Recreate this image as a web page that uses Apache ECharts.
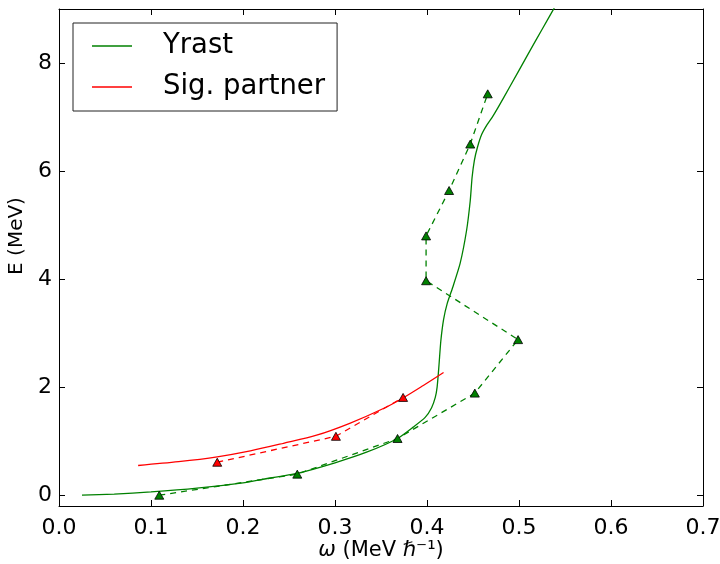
<!DOCTYPE html>
<html>
<head>
<meta charset="utf-8">
<script src="https://cdn.jsdelivr.net/npm/echarts@6/dist/echarts.min.js"></script>
<style>html,body{margin:0;padding:0;background:#fff;}#c{width:720px;height:564px;}</style>
</head>
<body>
<div id="c"></div>
<script>
// Yrast (theory, solid)
const yrastW = [0.025, 0.06, 0.10, 0.15, 0.20, 0.22, 0.26, 0.30, 0.335, 0.368, 0.385, 0.398, 0.405, 0.409, 0.411, 0.413, 0.415, 0.418, 0.422, 0.428, 0.436, 0.443, 0.447, 0.449, 0.4515, 0.455, 0.4595, 0.465, 0.471, 0.477, 0.490, 0.510, 0.525, 0.542];
const yrastE = [0.00, 0.02, 0.06, 0.13, 0.23, 0.29, 0.41, 0.60, 0.80, 1.05, 1.26, 1.44, 1.62, 1.81, 2.00, 2.40, 2.85, 3.25, 3.55, 3.85, 4.29, 4.90, 5.45, 5.88, 6.20, 6.45, 6.68, 6.85, 7.00, 7.17, 7.56, 8.17, 8.62, 9.13];
// Signature partner (theory, solid)
const partnerW = [0.086, 0.13, 0.172, 0.208, 0.244, 0.28, 0.316, 0.352, 0.374, 0.396, 0.418];
const partnerE = [0.55, 0.62, 0.71, 0.82, 0.96, 1.11, 1.33, 1.60, 1.80, 2.03, 2.27];
// Experimental (dashed with triangles)
const yrastExpW = [0.109, 0.259, 0.368, 0.452, 0.499, 0.399, 0.399, 0.424, 0.447, 0.466];
const yrastExpE = [0.00, 0.39, 1.05, 1.89, 2.88, 3.97, 4.80, 5.64, 6.50, 7.43];
const partnerExpW = [0.172, 0.301, 0.374];
const partnerExpE = [0.61, 1.09, 1.81];
// Ticks
const xTicks = [0.0, 0.1, 0.2, 0.3, 0.4, 0.5, 0.6, 0.7];
const yTicks = [0, 2, 4, 6, 8];

const zip = (a, b) => a.map((v, i) => [v, b[i]]);
const FONT = 'DejaVu Sans';
const GREEN = '#008000', RED = '#ff0000';

const chart = echarts.init(document.getElementById('c'), null, {renderer: 'canvas'});
const axisBase = {
  type: 'value', splitLine: {show: false},
  axisLine: {show: true, onZero: false, lineStyle: {color: '#000', width: 1}},
  axisTick: {show: true, inside: true, length: 6, lineStyle: {color: '#000', width: 1}}
};
chart.setOption({
  animation: false,
  backgroundColor: '#fff',
  grid: {left: 59, right: 17, top: 9, bottom: 58, containLabel: false, outerBoundsMode: 'none'},
  xAxis: [
    Object.assign({}, axisBase, {min: 0, max: 0.7, interval: 0.1, position: 'bottom',
      axisLabel: {show: true, margin: 11, fontSize: 22, fontFamily: FONT, color: '#000',
        formatter: v => v.toFixed(1)}}),
    Object.assign({}, axisBase, {min: 0, max: 0.7, interval: 0.1, position: 'top', axisLabel: {show: false}})
  ],
  yAxis: [
    Object.assign({}, axisBase, {min: -0.2, max: 9, position: 'left',
      axisTick: Object.assign({}, axisBase.axisTick, {customValues: yTicks}),
      axisLabel: {show: true, customValues: yTicks, margin: 7, fontSize: 22, fontFamily: FONT, color: '#000'}}),
    Object.assign({}, axisBase, {min: -0.2, max: 9, position: 'right',
      axisTick: Object.assign({}, axisBase.axisTick, {customValues: yTicks}),
      axisLabel: {show: false, customValues: yTicks}})
  ],
  legend: {
    data: ['Yrast', 'Sig. partner'],
    orient: 'vertical', left: 73, top: 23,
    backgroundColor: '#fff', borderColor: '#222', borderWidth: 1, borderRadius: 0,
    padding: [8, 12, 9, 19],
    itemGap: 11, itemWidth: 40, itemHeight: 1.5, icon: 'rect',
    textStyle: {fontSize: 27.5, fontFamily: FONT, color: '#000', lineHeight: 30, padding: [0, 0, 0, 26]}
  },
  series: [
    {name: 'Yrast', type: 'line', data: zip(yrastW, yrastE), showSymbol: false, symbol: 'none', smooth: 0.2,
      color: GREEN, lineStyle: {color: GREEN, width: 1.3}, z: 2},
    {name: 'Sig. partner', type: 'line', data: zip(partnerW, partnerE), showSymbol: false, symbol: 'none', smooth: 0.3,
      color: RED, lineStyle: {color: RED, width: 1.3}, z: 2},
    {name: 'Yrast exp', type: 'line', data: zip(yrastExpW, yrastExpE), symbol: 'triangle', symbolSize: [9, 8],
      showSymbol: true, color: GREEN,
      itemStyle: {color: GREEN, borderColor: '#000', borderWidth: 0.8},
      lineStyle: {color: GREEN, width: 1.3, type: [6, 5]}, z: 3},
    {name: 'Partner exp', type: 'line', data: zip(partnerExpW, partnerExpE), symbol: 'triangle', symbolSize: [9, 8],
      showSymbol: true, color: RED,
      itemStyle: {color: RED, borderColor: '#000', borderWidth: 0.8},
      lineStyle: {color: RED, width: 1.3, type: [6, 5]}, z: 3}
  ],
  graphic: [
    {type: 'text', x: 381, y: 551, z: 10,
      style: {text: '{i|ω} (MeV {i|ℏ}⁻¹)', fill: '#000', textAlign: 'center', textVerticalAlign: 'middle',
        font: '21px "DejaVu Sans"',
        rich: {i: {fontStyle: 'italic', fontSize: 21, fontFamily: FONT}}}},
    {type: 'text', x: 17, y: 236, rotation: Math.PI / 2, z: 10,
      style: {text: 'E (MeV)', fill: '#000', textAlign: 'center', textVerticalAlign: 'middle',
        font: '20px "DejaVu Sans"'}}
  ]
});
</script>
</body>
</html>
